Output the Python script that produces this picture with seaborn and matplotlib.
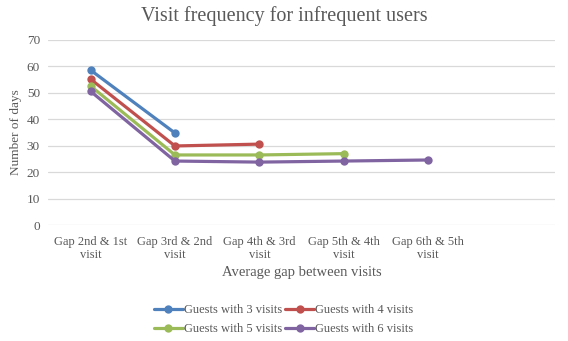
import numpy as np
import pandas as pd
import matplotlib
matplotlib.use("Agg")
import matplotlib.pyplot as plt
import seaborn as sns

categories = ["Gap 2nd & 1st\nvisit", "Gap 3rd & 2nd\nvisit", "Gap 4th & 3rd\nvisit",
              "Gap 5th & 4th\nvisit", "Gap 6th & 5th\nvisit", ""]
guests3 = [58.6, 34.8]
guests4 = [55.2, 29.9, 30.6]
guests5 = [52.6, 26.5, 26.5, 27.0]
guests6 = [50.6, 24.2, 23.8, 24.2, 24.6]
series_names = ["Guests with 3 visits", "Guests with 4 visits",
                "Guests with 5 visits", "Guests with 6 visits"]
colors = ["#4F81BD", "#C0504D", "#9BBB59", "#8064A2"]

rows = []
for name, vals in zip(series_names, [guests3, guests4, guests5, guests6]):
    for i, v in enumerate(vals):
        rows.append({"pos": i, "value": v, "series": name})
df = pd.DataFrame(rows)

sns.set_theme(style="white")
plt.rcParams['font.family'] = ['Liberation Serif', 'DejaVu Serif']
txt = "#595959"

fig = plt.figure(figsize=(5.68, 3.41), dpi=100)
ax = fig.add_axes([0.085, 0.34, 0.892, 0.543])
sns.lineplot(data=df, x="pos", y="value", hue="series", palette=colors,
             marker="o", markersize=6, markeredgewidth=0, linewidth=2.3,
             ax=ax, legend=True)
ax.set_xlim(-0.5, 5.5)
ax.set_ylim(0, 70)
ax.set_yticks(range(0, 71, 10))
ax.set_xticks(range(len(categories)))
ax.set_xticklabels(categories, fontsize=9, color=txt, linespacing=1.05)
ax.tick_params(axis='y', labelsize=9.5, colors=txt, length=0, pad=6)
ax.tick_params(axis='x', length=0, pad=8)
ax.grid(axis='y', color="#D9D9D9", linewidth=0.9)
for s in ax.spines.values():
    s.set_visible(False)
ax.set_xlabel("Average gap between visits", fontsize=10.5, color=txt, labelpad=4)
ax.set_ylabel("Number of days", fontsize=9.5, color=txt, labelpad=3)
fig.text(0.5, 0.953, "Visit frequency for infrequent users", fontsize=14.5,
         color=txt, ha="center", va="center")

handles, labels = ax.get_legend_handles_labels()
order = [0, 2, 1, 3]
ax.legend([handles[i] for i in order], [labels[i] for i in order], ncol=2,
          loc="upper center", bbox_to_anchor=(0.465, -0.365),
          frameon=False, fontsize=9, labelcolor=txt, handlelength=2.3,
          handletextpad=0.1, columnspacing=0.25, labelspacing=0.6)

fig.savefig("out.png", dpi=100, facecolor="white")
